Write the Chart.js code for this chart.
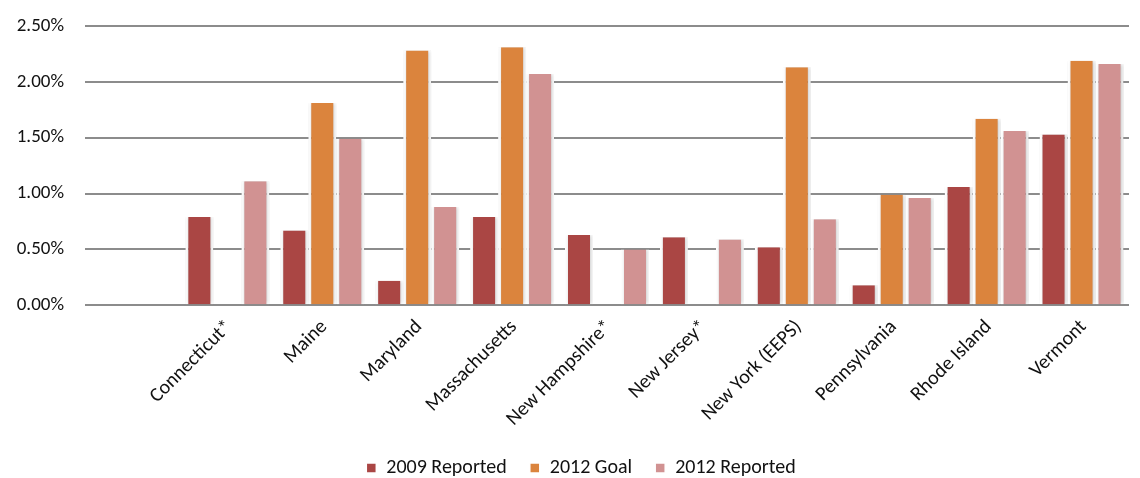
<!DOCTYPE html>
<html>
<head>
<meta charset="utf-8">
<script src="https://cdn.jsdelivr.net/npm/chart.js@4"></script>
<style>
  html, body { margin: 0; padding: 0; background: #fff; }
  #wrap { width: 1140px; height: 478px; position: relative; }
</style>
</head>
<body>
<div id="wrap"><canvas id="c"></canvas></div>
<script>
// Categories (first one is an empty slot, as in the original chart)
const categories = ['', 'Connecticut*', 'Maine', 'Maryland', 'Massachusetts', 'New Hampshire*', 'New Jersey*', 'New York (EEPS)', 'Pennsylvania', 'Rhode Island', 'Vermont'];
// Values in percent
const reported2009 = [null, 0.79, 0.67, 0.22, 0.79, 0.63, 0.61, 0.52, 0.18, 1.06, 1.53];
const goal2012     = [null, null, 1.81, 2.28, 2.31, null, null, 2.13, 0.99, 1.67, 2.19];
const reported2012 = [null, 1.11, 1.49, 0.88, 2.07, 0.50, 0.59, 0.77, 0.96, 1.56, 2.16];
const seriesNames = ['2009 Reported', '2012 Goal', '2012 Reported'];
const yTicks = [0, 0.5, 1.0, 1.5, 2.0, 2.5];

const colors = ['#AA4644', '#DB843D', '#D19292'];
const FONT = 'Carlito, Lato, "Open Sans", sans-serif';

const shadowPlugin = {
  id: 'barShadow',
  afterLayout(chart) {
    const lg = chart.legend;
    if (lg) { lg.left += 9; lg.right += 9; lg.top += 3; lg.bottom += 3; }
  },
  beforeDatasetsDraw(chart) {
    const ctx = chart.ctx;
    ctx.save();
    ctx.shadowColor = 'rgba(0,0,0,0.22)';
    ctx.shadowBlur = 4;
    ctx.shadowOffsetX = 1;
    ctx.shadowOffsetY = 0;
  },
  afterDatasetsDraw(chart) {
    chart.ctx.restore();
  }
};

const mk = (label, data, color) => ({
  label, data,
  backgroundColor: color,
  borderColor: '#ffffff',
  borderWidth: { left: 3, right: 3, top: 0, bottom: 0 },
  borderSkipped: false,
  categoryPercentage: 0.885,
  barPercentage: 1.0
});

new Chart(document.getElementById('c'), {
  type: 'bar',
  data: {
    labels: categories,
    datasets: [
      mk(seriesNames[0], reported2009, colors[0]),
      mk(seriesNames[1], goal2012, colors[1]),
      mk(seriesNames[2], reported2012, colors[2])
    ]
  },
  options: {
    responsive: true,
    maintainAspectRatio: false,
    animation: false,
    layout: { padding: { left: 15, right: 11, top: 26, bottom: 0 } },
    plugins: {
      legend: {
        position: 'bottom',
        maxHeight: 46,
        labels: {
          boxWidth: 10, boxHeight: 10,
          padding: 23,
          color: '#111',
          font: { family: FONT, size: 20 }
        }
      },
      tooltip: { enabled: false }
    },
    scales: {
      x: {
        grid: { display: false },
        border: { display: false },
        afterFit(scale) { scale.height -= 1; scale.paddingLeft = 0; },
        ticks: {
          minRotation: 45, maxRotation: 45,
          color: '#111',
          padding: 2,
          labelOffset: 2,
          font: { family: FONT, size: 20 }
        }
      },
      y: {
        min: 0, max: 2.5,
        afterBuildTicks(scale) { scale.ticks = yTicks.map(v => ({ value: v })); },
        afterFit(scale) { scale.paddingTop = 0; scale.width = 70; },
        grid: { color: '#8c8c8c', lineWidth: 2, drawTicks: false },
        border: { display: false },
        ticks: {
          color: '#111',
          padding: 21,
          font: { family: FONT, size: 19 },
          callback: v => v.toFixed(2) + '%'
        }
      }
    }
  },
  plugins: [shadowPlugin]
});
</script>
</body>
</html>
